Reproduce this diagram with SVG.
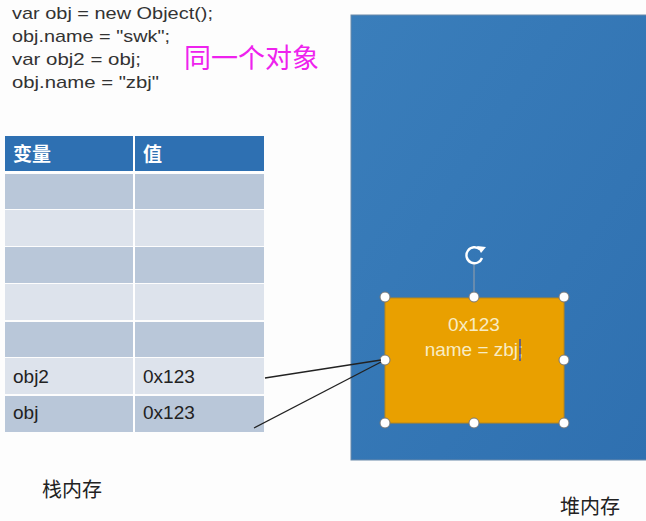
<svg xmlns="http://www.w3.org/2000/svg" width="646" height="521" viewBox="0 0 646 521">
<style>
.code{font-family:"Liberation Sans","Noto Sans",sans-serif;font-size:17px;fill:#333}
.cell{font-family:"Liberation Sans","Noto Sans CJK SC",sans-serif;font-size:19px;fill:#222}
.hd{font-family:"Noto Sans CJK SC",sans-serif;font-size:19px;font-weight:bold;fill:#fff}
.dk{fill:#b9c7d9}
.lt{fill:#dde3ec}
.lbl{font-family:"Noto Sans CJK SC",sans-serif;font-size:20px;fill:#222}
.h{fill:#fff;stroke:#777;stroke-width:1}
.conn{stroke:#222;stroke-width:1.3;fill:none}
</style>
<defs>
<linearGradient id="bg" x1="0" y1="0" x2="1" y2="1">
<stop offset="0" stop-color="#3a7ebb"/>
<stop offset="1" stop-color="#2f70b0"/>
</linearGradient>
</defs>
<rect width="646" height="521" fill="#fdfdfd"/>
<g id="code">
<text class="code" x="12" y="19" textLength="201" lengthAdjust="spacingAndGlyphs">var obj = new Object();</text>
<text class="code" x="12" y="42" textLength="158" lengthAdjust="spacingAndGlyphs">obj.name = "swk";</text>
<text class="code" x="12" y="65" textLength="129" lengthAdjust="spacingAndGlyphs">var obj2 = obj;</text>
<text class="code" x="12" y="88" textLength="147" lengthAdjust="spacingAndGlyphs">obj.name = "zbj"</text>
<text x="184" y="68" font-family="Noto Sans CJK SC,sans-serif" font-size="27" fill="#ee22ee">同一个对象</text>
</g>
<g id="heap">
<rect x="351" y="15" width="300" height="445" fill="url(#bg)" stroke="#6a8aaa" stroke-width="1"/>
</g>
<g id="table">
<rect x="5" y="136" width="259" height="35" fill="#2e70b2"/>
<rect class="dk" x="5" y="174" width="259" height="35"/>
<rect class="lt" x="5" y="210" width="259" height="36"/>
<rect class="dk" x="5" y="247" width="259" height="36"/>
<rect class="lt" x="5" y="284" width="259" height="36"/>
<rect class="dk" x="5" y="322" width="259" height="35"/>
<rect class="lt" x="5" y="358" width="259" height="36"/>
<rect class="dk" x="5" y="396" width="259" height="36"/>
<g stroke="#fff" stroke-width="2">
<line x1="134" y1="136" x2="134" y2="432"/>
<line x1="5" y1="172.5" x2="264" y2="172.5"/>
</g>
<text class="hd" x="13" y="161">变量</text>
<text class="hd" x="143" y="161">值</text>
<text class="cell" x="13" y="383">obj2</text>
<text class="cell" x="143" y="383">0x123</text>
<text class="cell" x="13" y="419">obj</text>
<text class="cell" x="143" y="419">0x123</text>
</g>
<g id="object">
<line x1="474" y1="264" x2="474" y2="298" stroke="#8a9aaa" stroke-width="1.2"/>
<rect x="385" y="298" width="179" height="125" fill="#e9a000" stroke="#b8861a" stroke-width="1"/>
<text x="474" y="331" text-anchor="middle" font-family="Liberation Sans,sans-serif" font-size="19" fill="#f8ecc4">0x123</text>
<text x="474" y="356" text-anchor="middle" font-family="Liberation Sans,sans-serif" font-size="19" fill="#f8ecc4">name = zbj;</text>
<line x1="520" y1="339" x2="520" y2="361" stroke="#1a3cc8" stroke-width="1.2"/>
<path d="M480 249.5 A8 8 0 1 0 482 258" fill="none" stroke="#fff" stroke-width="2.4"/>
<path d="M477 246 L486 247 L481 253 Z" fill="#fff"/>
<circle class="h" cx="385" cy="297" r="5"/>
<circle class="h" cx="474" cy="297" r="5"/>
<circle class="h" cx="564" cy="297" r="5"/>
<circle class="h" cx="385" cy="360" r="5"/>
<circle class="h" cx="564" cy="360" r="5"/>
<circle class="h" cx="385" cy="423" r="5"/>
<circle class="h" cx="474" cy="423" r="5"/>
<circle class="h" cx="564" cy="423" r="5"/>
</g>
<g id="connectors">
<line class="conn" x1="265" y1="378" x2="381" y2="360"/>
<line class="conn" x1="254" y1="428" x2="381" y2="362"/>
</g>
<text class="lbl" x="42" y="497">栈内存</text>
<text class="lbl" x="560" y="514">堆内存</text>
</svg>
